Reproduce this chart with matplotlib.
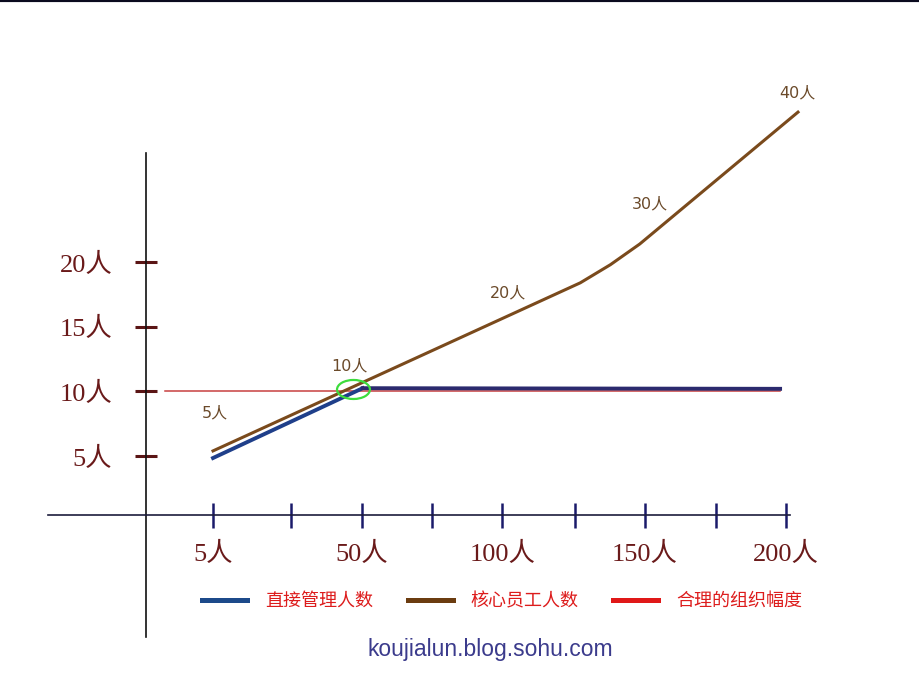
import matplotlib
matplotlib.use('Agg')
import matplotlib.pyplot as plt
from matplotlib.lines import Line2D
from matplotlib.patches import Ellipse

# x axis: tick slots as drawn (slightly uneven), every second one labelled
x_slots = [0, 1.09, 2.08, 3.06, 4.04, 5.05, 6.03, 7.02, 8.0]
x_labels = ['5人', '', '50人', '', '100人', '', '150人', '', '200人']
y_values = [5, 10, 15, 20]
y_labels = ['5人', '10人', '15人', '20人']

# 核心员工人数 (brown)
core_x = [0, 5.13, 5.55, 5.96, 8.17]
core_y = [5.4, 18.4, 19.8, 21.4, 31.6]
# 直接管理人数 (blue)
direct_x = [0, 2.09, 7.92]
direct_y = [4.85, 10.25, 10.2]
# 合理的组织幅度 (red)
span_x = [-0.67, 7.92]
span_y = [10, 10]

# notes written along the brown line
core_notes = ['5人', '10人', '20人', '30人', '40人']
note_x = [0.03, 1.91, 4.12, 6.10, 8.16]
note_y = [8.3, 12.0, 17.6, 24.5, 33.1]

serif_cjk = ['Liberation Serif', 'Noto Sans CJK SC']
sans_cjk = ['DejaVu Sans', 'Noto Sans CJK SC']

fig = plt.figure(figsize=(9.2, 6.9), dpi=100)
ax = fig.add_axes([0, 0, 1, 1])
ax.set_xlim(-2.975, 9.874)
ax.set_ylim(-13.09, 40.27)

# axis lines crossing like a hand drawn diagram
ax.spines['right'].set_visible(False)
ax.spines['top'].set_color('#0a0a1e')
ax.spines['top'].set_linewidth(3)
ax.spines['left'].set_position(('data', -0.936))
ax.spines['left'].set_bounds(-9.0, 28.4)
ax.spines['left'].set_color('#111111')
ax.spines['left'].set_linewidth(1.2)
ax.spines['bottom'].set_position(('data', 0.44))
ax.spines['bottom'].set_bounds(-2.3, 8.06)
ax.spines['bottom'].set_color('#1c1c3c')
ax.spines['bottom'].set_linewidth(1.2)

ax.set_xticks(x_slots, x_labels, fontsize=19, color='#6a1a1a', family=serif_cjk)
ax.set_yticks(y_values, y_labels, fontsize=19, color='#6a1a1a', family=serif_cjk)
ax.tick_params(axis='x', direction='inout', length=18, width=1.8,
               color='#1a1a6a', pad=10.5)
ax.tick_params(axis='y', direction='inout', length=16.5, width=2.2,
               color='#5a1515', pad=16)

ax.plot(span_x, span_y, color='#c84040', lw=1.1, zorder=2)
ax.plot(direct_x[:2], direct_y[:2], color='#1f3f8a', lw=2.8, zorder=3)
ax.plot(direct_x[1:], direct_y[1:], color='#2b2a6e', lw=2.8, zorder=3)
ax.plot(core_x, core_y, color='#7a4a1c', lw=2.2, zorder=4)

ax.add_patch(Ellipse((1.962, 10.15), 0.46, 1.47, fill=False,
                     edgecolor='#3ddc3d', lw=1.6, zorder=5))

for txt, nx, ny in zip(core_notes, note_x, note_y):
    ax.text(nx, ny, txt, fontsize=11.5, color='#6b4a2a', family=sans_cjk,
            ha='center', va='center')

handles = [Line2D([], [], color='#1c4a8a', lw=3.6),
           Line2D([], [], color='#6b3c10', lw=3.6),
           Line2D([], [], color='#e01818', lw=3.6)]
names = ['直接管理人数', '核心员工人数', '合理的组织幅度']
leg = fig.legend(handles, names, loc='center', bbox_to_anchor=(0.546, 0.129),
                 ncol=3, frameon=False, handlelength=2.5, handletextpad=1.0,
                 columnspacing=1.9, prop={'family': 'Noto Sans CJK SC', 'size': 13},
                 labelcolor='#dd1c1c')

fig.text(0.533, 0.058, 'koujialun.blog.sohu.com', fontsize=16.5,
         family='Liberation Sans', color='#3b3b8c', ha='center', va='center')

fig.savefig('out.png', dpi=100)
